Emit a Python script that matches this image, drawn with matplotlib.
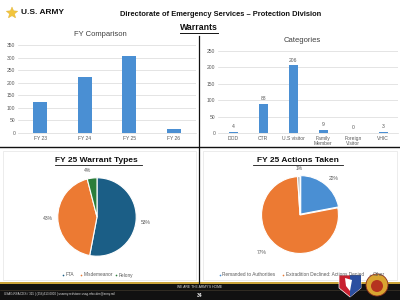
import matplotlib
matplotlib.use("Agg")
import matplotlib.pyplot as plt
from matplotlib.patches import Rectangle, Polygon, Circle
from matplotlib.lines import Line2D
import numpy as np

plt.rcParams['font.family'] = ['Liberation Sans', 'DejaVu Sans']

fy_labels = ["FY 23", "FY 24", "FY 25", "FY 26"]
fy_values = [122, 224, 308, 17]

cat_labels = ["DOD", "CTR", "U.S visitor", "Family\nMember", "Foreign\nVisitor", "VHIC"]
cat_values = [4, 88, 206, 9, 0, 3]

types_labels = ["FTA", "Misdemeanor", "Felony"]
types_values = [53, 43, 4]

actions_labels = ["Remanded to Authorities", "Extradition Declined: Actions Denied", "Other"]
actions_values = [22, 77, 1]

W, H = 400, 300
fig = plt.figure(figsize=(4, 3), dpi=100)
fig.patch.set_facecolor("white")

def ax_px(x0, y0, x1, y1):
    return fig.add_axes([x0 / W, 1 - y1 / H, (x1 - x0) / W, (y1 - y0) / H])

def ftext(x, y, s, **kw):
    return fig.text(x / W, 1 - y / H, s, **kw)

# overlay axis in pixel coordinates
ov = fig.add_axes([0, 0, 1, 1], zorder=-1)
ov.set_xlim(0, W); ov.set_ylim(H, 0); ov.axis("off")

# header
star = Polygon([(12 + 6 * np.cos(np.pi / 2 + k * np.pi / 5) * (1 if k % 2 == 0 else 0.45),
                 13 - 6 * np.sin(np.pi / 2 + k * np.pi / 5) * (1 if k % 2 == 0 else 0.45)) for k in range(10)],
               closed=True, facecolor="#f2c53d", edgecolor="#e0b030", lw=0.3)
ov.add_patch(star)
ftext(21, 13, "U.S. ARMY", fontsize=6.0, fontweight="bold", va="center", ha="left", color="#111111")
ftext(221, 14, "Directorate of Emergency Services \u2013 Protection Division", fontsize=5.4,
      fontweight="bold", ha="center", va="center", color="#111111")
ftext(199, 28, "Warrants", fontsize=6.3, fontweight="bold", ha="center", va="center", color="#111111")
ov.add_line(Line2D([180, 218], [33, 33], color="#111111", lw=0.7))

# separators
ov.add_line(Line2D([0, 400], [147, 147], color="#111111", lw=1.0))
ov.add_line(Line2D([199, 199], [36, 283], color="#111111", lw=0.9))
ov.add_patch(Rectangle((3, 151), 193, 129, fill=False, edgecolor="#e4e4e4", lw=0.5))
ov.add_patch(Rectangle((203, 151), 194, 129, fill=False, edgecolor="#e4e4e4", lw=0.5))

bar_color = "#4a8fd3"
grid_color = "#d9d9d9"
tick_color = "#595959"

# bar chart 1
ax1 = ax_px(18, 45, 196, 133)
x = np.arange(len(fy_labels))
ax1.bar(x, fy_values, width=0.32, color=bar_color, zorder=3)
ax1.set_xlim(-0.5, len(fy_labels) - 0.5)
ax1.set_ylim(0, 350)
ax1.set_yticks(np.arange(0, 351, 50))
ax1.set_xticks(x)
ax1.set_xticklabels(fy_labels)
ax1.tick_params(labelsize=3.6, colors=tick_color, length=0, pad=2)
ax1.grid(axis="y", color=grid_color, lw=0.5, zorder=0)
for s in ["top", "right", "left"]:
    ax1.spines[s].set_visible(False)
ax1.spines["bottom"].set_color(grid_color)
ax1.spines["bottom"].set_linewidth(0.5)
ftext(100, 35, "FY Comparison", fontsize=5.5, ha="center", va="center", color="#404040")

# bar chart 2
ax2 = ax_px(218, 51, 398, 133)
x2 = np.arange(len(cat_labels))
bars = ax2.bar(x2, cat_values, width=0.3, color=bar_color, zorder=3)
ax2.set_xlim(-0.5, len(cat_labels) - 0.5)
ax2.set_ylim(0, 250)
ax2.set_yticks(np.arange(0, 251, 50))
ax2.set_xticks(x2)
ax2.set_xticklabels(cat_labels, linespacing=1.0)
ax2.tick_params(labelsize=3.6, colors=tick_color, length=0, pad=2)
ax2.grid(axis="y", color=grid_color, lw=0.5, zorder=0)
for s in ["top", "right", "left"]:
    ax2.spines[s].set_visible(False)
ax2.spines["bottom"].set_color(grid_color)
ax2.spines["bottom"].set_linewidth(0.5)
for xi, v in zip(x2, cat_values):
    ax2.annotate(str(v), (xi, v), xytext=(0, 2), textcoords="offset points",
                 ha="center", va="bottom", fontsize=3.6, color=tick_color)
ftext(302, 40, "Categories", fontsize=5.5, ha="center", va="center", color="#404040")

# pie 1
ftext(96, 160, "FY 25 Warrant Types", fontsize=6, fontweight="bold", ha="center", va="center", color="#111111")
ov.add_line(Line2D([55, 142], [164.5, 164.5], color="#111111", lw=0.6))
axp1 = ax_px(57, 177, 137, 257)
c1 = ["#1b5e86", "#ec7a33", "#2b7d3a"]
axp1.pie(types_values, colors=c1, startangle=90, counterclock=False,
         wedgeprops=dict(edgecolor="white", linewidth=0.8))
axp1.set_xlim(-1.02, 1.02); axp1.set_ylim(-1.02, 1.02)
axp1.set_aspect("equal")
ftext(146, 223, "53%", fontsize=3.6, ha="center", va="center", color=tick_color)
ftext(48, 218, "43%", fontsize=3.6, ha="center", va="center", color=tick_color)
ftext(88, 171, "4%", fontsize=3.6, ha="center", va="center", color=tick_color)
ltx = [63, 81, 116]
for lx, lab, col in zip(ltx, types_labels, c1):
    ov.plot([lx], [275], marker="o", ms=1.2, color=col, mew=0)
    ftext(lx + 2.5, 275, lab, fontsize=3.4, ha="left", va="center", color=tick_color)

# pie 2
ftext(298, 160, "FY 25 Actions Taken", fontsize=6, fontweight="bold", ha="center", va="center", color="#111111")
ov.add_line(Line2D([253, 343], [164.5, 164.5], color="#111111", lw=0.6))
axp2 = ax_px(260, 175, 340, 255)
c2 = ["#4a8fd3", "#ec7a33", "#a5a5a5"]
axp2.pie(actions_values, colors=c2, startangle=90, counterclock=False,
         explode=[0.03, 0, 0], wedgeprops=dict(edgecolor="white", linewidth=0.8))
axp2.set_xlim(-1.04, 1.04); axp2.set_ylim(-1.04, 1.04)
axp2.set_aspect("equal")
ftext(334, 178, "22%", fontsize=3.6, ha="center", va="center", color=tick_color)
ftext(262, 252, "77%", fontsize=3.6, ha="center", va="center", color=tick_color)
ftext(299, 169, "1%", fontsize=3.6, ha="center", va="center", color=tick_color)
ltx2 = [220, 283, 370]
for lx, lab, col in zip(ltx2, actions_labels, c2):
    ov.plot([lx], [275], marker="o", ms=1.2, color=col, mew=0)
    ftext(lx + 2.5, 275, lab, fontsize=3.4, ha="left", va="center", color=tick_color)

# footer
ov.add_patch(Rectangle((0, 282), 400, 1.6, facecolor="#c9a33a", edgecolor="none"))
ov.add_patch(Rectangle((0, 283.6), 400, 16.4, facecolor="#111111", edgecolor="none"))
ov.add_line(Line2D([0, 400], [289.5, 289.5], color="#4a4030", lw=0.4))
ftext(200, 286.8, "WE ARE THE ARMY'S HOME", fontsize=2.4, ha="center", va="center", color="#dddddd")
ftext(200, 295.5, "34", fontsize=3.6, fontweight="bold", ha="center", va="center", color="#f0f0f0")
ftext(4, 294.5, "USAG-RSA DES / 315 | (256)313-0000 | usarmy.redstone.usag.mbx.des@army.mil",
      fontsize=2.2, ha="left", va="center", color="#dddddd")

# logos
shield = Polygon([(339, 275), (361, 275), (361, 288), (350, 297), (339, 288)], closed=True,
                 facecolor="#c8202f", edgecolor="white", lw=0.5, zorder=5)
ov.add_patch(shield)
ov.add_patch(Polygon([(350, 275), (361, 275), (361, 288), (350, 297)], closed=True,
                     facecolor="#2b4fa0", edgecolor="none", zorder=6))
ov.add_patch(Polygon([(345, 278), (352, 280), (350, 291), (346, 286)], closed=True,
                     facecolor="white", edgecolor="none", zorder=7))
ov.add_patch(Circle((377, 285), 11, facecolor="#d9a531", edgecolor="#8b2c1e", lw=0.6, zorder=5))
ov.add_patch(Circle((377, 286), 6, facecolor="#b5331f", edgecolor="none", zorder=6))

fig.savefig("out.png", dpi=100, facecolor="white")
